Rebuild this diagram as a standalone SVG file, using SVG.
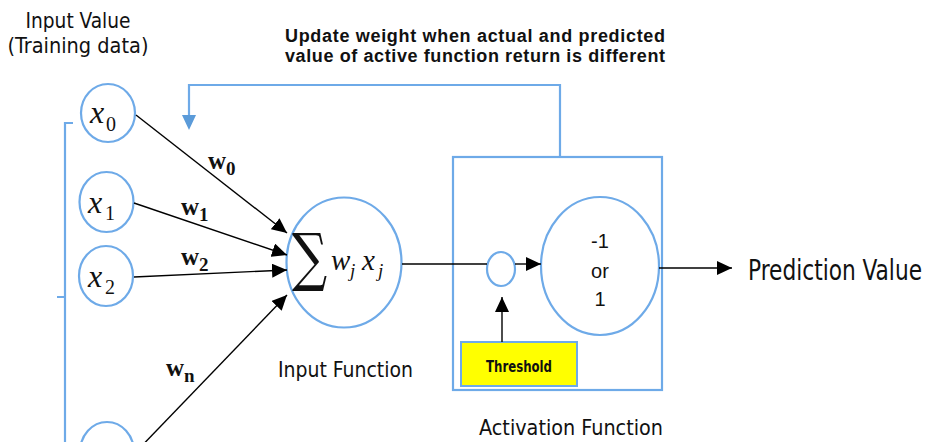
<svg xmlns="http://www.w3.org/2000/svg" width="930" height="442" viewBox="0 0 930 442">
<style>
.blue{fill:none;stroke:#6eaae8;stroke-width:2.2}
.ln{fill:none;stroke:#000;stroke-width:1.4}
.math{font-family:"Liberation Serif","DejaVu Serif",serif;font-style:italic;fill:#111}
.sub{font-family:"Liberation Serif","DejaVu Serif",serif;font-style:normal;fill:#111}
.wb{font-family:"Liberation Serif","DejaVu Serif",serif;font-weight:bold;fill:#111}
.lbl{font-family:"DejaVu Sans","Noto Sans",sans-serif;font-stretch:condensed;fill:#111}
.ar{font-family:"Liberation Sans",Arial,sans-serif;fill:#111}
</style>
<defs>
<marker id="ah" markerUnits="userSpaceOnUse" markerWidth="16" markerHeight="14" refX="15" refY="7" orient="auto">
<path d="M0,0 L15,7 L0,14 z" fill="#000"/>
</marker>
</defs>
<rect width="930" height="442" fill="#fff"/>

<g id="header">
<text class="lbl" x="78" y="28" font-size="21" text-anchor="middle" textLength="105" lengthAdjust="spacingAndGlyphs">Input Value</text>
<text class="lbl" x="78" y="53" font-size="21" text-anchor="middle" textLength="141" lengthAdjust="spacingAndGlyphs">(Training data)</text>
</g>

<g id="update-note">
<text class="ar" x="285" y="42" font-size="18" font-weight="bold" textLength="380" lengthAdjust="spacing">Update weight when actual and predicted</text>
<text class="ar" x="285" y="62" font-size="18" font-weight="bold" textLength="380" lengthAdjust="spacing">value of active function return is different</text>
</g>

<g id="bracket">
<path class="blue" d="M73,123 H65 V442 M57,297 H65" stroke-width="1.6"/>
</g>

<g id="x0">
<ellipse class="blue" cx="108" cy="113" rx="27" ry="29"/>
<text class="math" x="90" y="123" font-size="32">x</text>
<text class="sub" x="106" y="131" font-size="20">0</text>
</g>
<g id="x1">
<ellipse class="blue" cx="106.5" cy="202" rx="27" ry="30"/>
<text class="math" x="88" y="213" font-size="32">x</text>
<text class="sub" x="105" y="220" font-size="20">1</text>
</g>
<g id="x2">
<ellipse class="blue" cx="106" cy="276" rx="27" ry="30"/>
<text class="math" x="88" y="287" font-size="32">x</text>
<text class="sub" x="105" y="294" font-size="20">2</text>
</g>
<g id="xn">
<ellipse class="blue" cx="107" cy="452" rx="27" ry="30"/>
</g>

<g id="sum">
<ellipse class="blue" cx="344" cy="262.5" rx="57.5" ry="65"/>
<text x="292" y="279" font-family="DejaVu Serif,serif" font-size="58" fill="#111" transform="translate(292 279) scale(0.85 1.1) translate(-292 -279)">∑</text>
<text class="math" x="331" y="270" font-size="29">w</text>
<text class="math" x="350" y="277" font-size="19">j</text>
<text class="math" x="362" y="270" font-size="29">x</text>
<text class="math" x="378" y="277" font-size="19">j</text>
</g>

<g id="activation">
<rect class="blue" x="453" y="157" width="209" height="233"/>
<ellipse class="blue" cx="501" cy="269" rx="14" ry="17"/>
<ellipse class="blue" cx="600" cy="266" rx="59" ry="69"/>
<text class="ar" x="600" y="248" font-size="20" text-anchor="middle">-1</text>
<text class="ar" x="600" y="278" font-size="20" text-anchor="middle">or</text>
<text class="ar" x="600" y="306" font-size="20" text-anchor="middle">1</text>
</g>

<g id="threshold">
<rect x="461" y="342" width="116" height="44" fill="#ffff00" stroke="#6eaae8" stroke-width="2"/>
<text class="lbl" x="519" y="372" font-size="15" font-weight="bold" text-anchor="middle" textLength="66" lengthAdjust="spacingAndGlyphs">Threshold</text>
</g>

<g id="connectors">
<line class="ln" x1="136" y1="115" x2="287" y2="233" marker-end="url(#ah)"/>
<line class="ln" x1="134" y1="203" x2="287" y2="255" stroke-width="2" marker-end="url(#ah)"/>
<line class="ln" x1="134" y1="277" x2="287" y2="270" stroke-width="1.7" marker-end="url(#ah)"/>
<line class="ln" x1="133" y1="455" x2="287" y2="295" marker-end="url(#ah)"/>
<line class="ln" x1="402" y1="264" x2="487" y2="264"/>
<line class="ln" x1="515" y1="264" x2="541" y2="264" marker-end="url(#ah)"/>
<line class="ln" x1="659" y1="268" x2="732" y2="268" marker-end="url(#ah)"/>
<line class="ln" x1="502" y1="342" x2="502" y2="297" stroke-width="1.6" marker-end="url(#ah)"/>
<path class="blue" d="M560,157 V85 H189 V118" stroke-width="1.8"/>
<path d="M182,115 L196,115 L189,130 z" fill="#5b9bd9"/>
</g>

<g id="labels">
<text class="wb" x="208" y="169" font-size="25">w</text>
<text class="wb" x="226" y="175" font-size="19">0</text>
<text class="wb" x="181" y="215" font-size="25">w</text>
<text class="wb" x="199" y="221" font-size="19">1</text>
<text class="wb" x="181" y="265" font-size="25">w</text>
<text class="wb" x="199" y="271" font-size="19">2</text>
<text class="wb" x="166" y="376" font-size="25">w</text>
<text class="wb" x="184" y="382" font-size="19">n</text>
<text class="lbl" x="278" y="377" font-size="22" textLength="135" lengthAdjust="spacingAndGlyphs">Input Function</text>
<text class="lbl" x="479" y="435" font-size="21" textLength="184" lengthAdjust="spacingAndGlyphs">Activation Function</text>
<text class="lbl" x="748" y="280" font-size="23" textLength="174" lengthAdjust="spacingAndGlyphs" transform="translate(0 280) scale(1 1.2) translate(0 -280)">Prediction Value</text>
</g>
</svg>
